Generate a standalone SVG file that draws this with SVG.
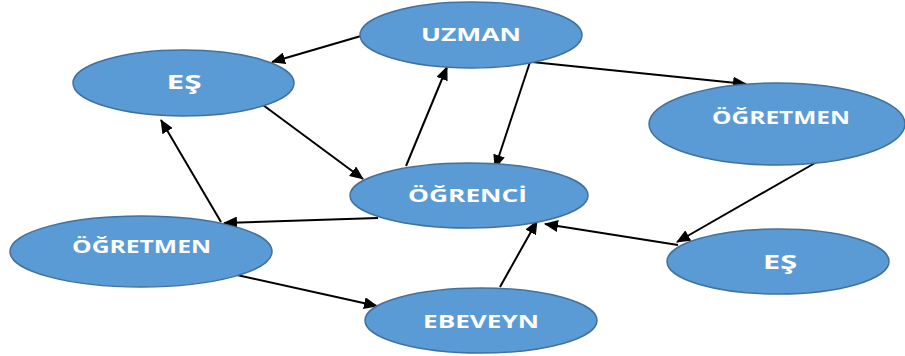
<svg xmlns="http://www.w3.org/2000/svg" width="905" height="356" viewBox="0 0 905 356">
<defs>
<style>
.node ellipse{fill:#5B9BD5;stroke:#41719C;stroke-width:1.5}
.node text{fill:#FFFFFF;font-family:"Open Sans","Liberation Sans",sans-serif;font-weight:bold;font-size:18px;text-anchor:middle}
.edges line{stroke:#000000;stroke-width:2;marker-end:url(#ah)}
</style>
<marker id="ah" markerWidth="14" markerHeight="12" refX="13" refY="6" orient="auto" markerUnits="userSpaceOnUse">
<path d="M0,0 L14,6 L0,12 z" fill="#000000"/>
</marker>
</defs>
<rect width="905" height="356" fill="#FFFFFF"/>
<g class="edges">
<line x1="361" y1="36" x2="272" y2="62"/>
<line x1="263" y1="105" x2="363" y2="179"/>
<line x1="406" y1="166" x2="447" y2="67"/>
<line x1="530" y1="62" x2="495" y2="168"/>
<line x1="532" y1="62" x2="746" y2="84"/>
<line x1="815" y1="163" x2="677" y2="242"/>
<line x1="678" y1="245" x2="545" y2="224"/>
<line x1="500" y1="287" x2="537" y2="221"/>
<line x1="378" y1="218" x2="224" y2="223"/>
<line x1="221" y1="222" x2="161" y2="120"/>
<line x1="237" y1="275" x2="377" y2="306"/>
</g>
<g id="uzman" class="node">
<ellipse cx="471" cy="35" rx="111" ry="33"/>
<text x="471" y="41" textLength="100" lengthAdjust="spacingAndGlyphs">UZMAN</text>
</g>
<g id="es-left" class="node">
<ellipse cx="183.5" cy="83" rx="110.5" ry="33"/>
<text x="184" y="89" textLength="35" lengthAdjust="spacingAndGlyphs" style="font-size:19px">EŞ</text>
</g>
<g id="ogretmen-right" class="node">
<ellipse cx="777" cy="124" rx="128" ry="41"/>
<text x="781" y="124" textLength="138" lengthAdjust="spacingAndGlyphs">ÖĞRETMEN</text>
</g>
<g id="ogrenci" class="node">
<ellipse cx="469" cy="195.5" rx="119" ry="32.5"/>
<text x="467.5" y="202" textLength="119" lengthAdjust="spacingAndGlyphs">ÖĞRENCİ</text>
</g>
<g id="ogretmen-left" class="node">
<ellipse cx="141" cy="251.5" rx="131" ry="35.5"/>
<text x="141.5" y="253" textLength="139" lengthAdjust="spacingAndGlyphs">ÖĞRETMEN</text>
</g>
<g id="es-right" class="node">
<ellipse cx="778" cy="261.5" rx="111" ry="32.5"/>
<text x="780" y="269" textLength="34" lengthAdjust="spacingAndGlyphs" style="font-size:19px">EŞ</text>
</g>
<g id="ebeveyn" class="node">
<ellipse cx="481" cy="320.5" rx="116" ry="32.5"/>
<text x="481" y="328" textLength="116" lengthAdjust="spacingAndGlyphs">EBEVEYN</text>
</g>
</svg>
